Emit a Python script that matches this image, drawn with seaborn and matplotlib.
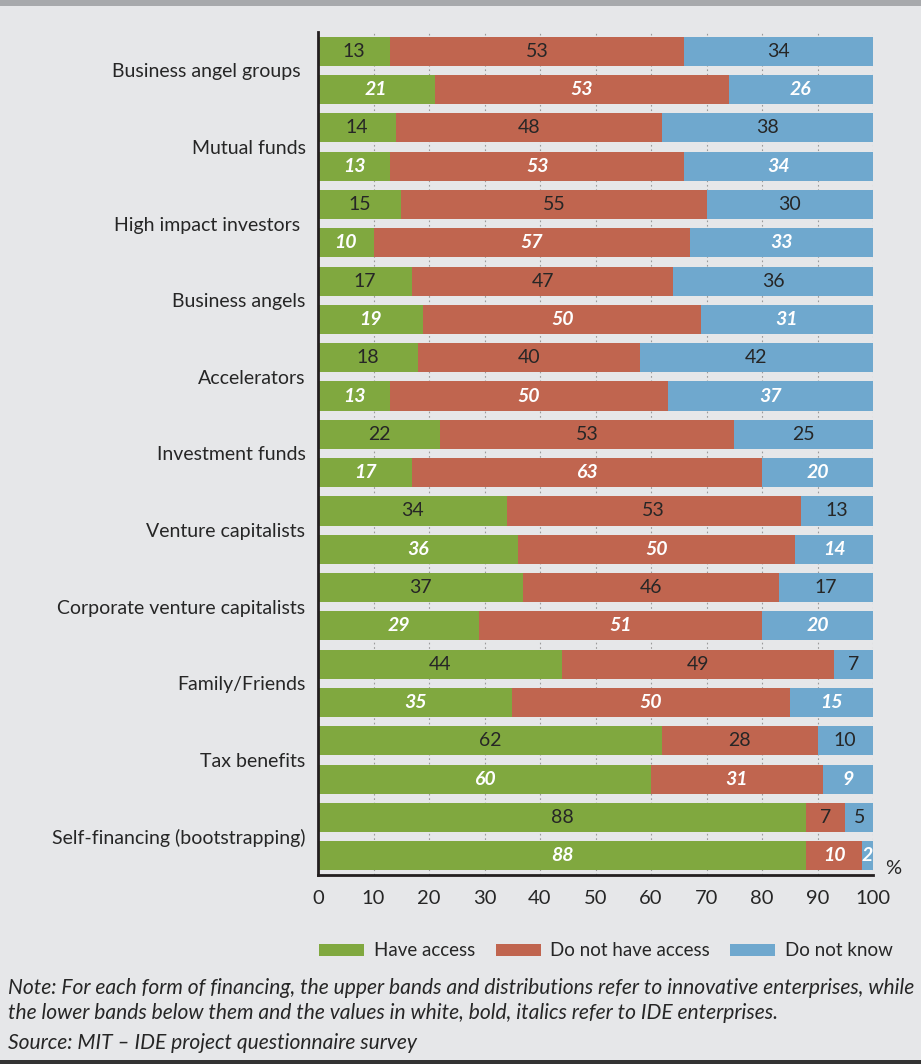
import matplotlib
matplotlib.use("Agg")
import matplotlib.pyplot as plt
from matplotlib.patches import Patch, Rectangle
import seaborn as sns
import pandas as pd
import numpy as np

categories = [
    "Business angel groups ", "Mutual funds", "High impact investors ",
    "Business angels", "Accelerators", "Investment funds",
    "Venture capitalists", "Corporate venture capitalists", "Family/Friends",
    "Tax benefits", "Self-financing (bootstrapping)",
]
groups = ["Innovative enterprises", "IDE enterprises"]
series = ["Have access", "Do not have access", "Do not know"]

# innovative enterprises (upper bands)
inn_have = [13, 14, 15, 17, 18, 22, 34, 37, 44, 62, 88]
inn_not = [53, 48, 55, 47, 40, 53, 53, 46, 49, 28, 7]
inn_dk = [34, 38, 30, 36, 42, 25, 13, 17, 7, 10, 5]
# IDE enterprises (lower bands)
ide_have = [21, 13, 10, 19, 13, 17, 36, 29, 35, 60, 88]
ide_not = [53, 53, 57, 50, 50, 63, 50, 51, 50, 31, 10]
ide_dk = [26, 34, 33, 31, 37, 20, 14, 20, 15, 9, 2]

xticks = [0, 10, 20, 30, 40, 50, 60, 70, 80, 90, 100]

GREEN = "#80A83F"
RED = "#C0654F"
BLUE = "#6FA8CE"
BG = "#E6E7E9"
DARK = "#262626"

sns.set_style("white")
FONT = ["Lato", "DejaVu Sans"]
plt.rcParams["font.family"] = FONT

rows = []
for gi, (h, n, d) in enumerate([(inn_have, inn_not, inn_dk), (ide_have, ide_not, ide_dk)]):
    for ci, cat in enumerate(categories):
        rows.append({"category": cat, "group": groups[gi],
                     "have": h[ci], "not": n[ci], "dk": d[ci]})
df = pd.DataFrame(rows)
df["c1"] = df["have"]
df["c2"] = df["have"] + df["not"]
df["c3"] = df["have"] + df["not"] + df["dk"]

fig = plt.figure(figsize=(9.21, 10.64), dpi=100)
fig.patch.set_facecolor(BG)
ax = fig.add_axes([318 / 921, 1 - 875 / 1064, (873 - 318) / 921, (875 - 32) / 1064])
ax.set_facecolor(BG)

for col, color in [("c3", BLUE), ("c2", RED), ("c1", GREEN)]:
    sns.barplot(data=df, y="category", x=col, hue="group", hue_order=groups,
                order=categories, palette=[color, color], orient="h",
                dodge=True, width=1.0, gap=0.24, errorbar=None, saturation=1,
                legend=False, ax=ax, linewidth=0, zorder=2)

# labels
for gi, (h, n, d) in enumerate([(inn_have, inn_not, inn_dk), (ide_have, ide_not, ide_dk)]):
    segs = [h, n, d]
    for s in range(3):
        cont = ax.containers[(2 - s) * 2 + gi]
        for ci, bar in enumerate(cont.patches):
            start = sum(segs[k][ci] for k in range(s))
            v = segs[s][ci]
            yc = bar.get_y() + bar.get_height() / 2
            xc = start + v / 2
            if gi == 0:
                ax.text(xc, yc, str(v), ha="center", va="center", fontsize=14,
                        color=DARK, zorder=5)
            else:
                ax.text(xc, yc, str(v), ha="center", va="center", fontsize=14,
                        color="white", fontweight="bold", fontstyle="italic", zorder=5)

ax.set_xlim(0, 100)
ax.set_ylim(len(categories) - 0.5, -0.5)
ax.set_xticks(xticks)
ax.set_xticklabels([str(t) for t in xticks], fontsize=14.5, color=DARK)
ax.set_yticks(range(len(categories)))
ax.set_yticklabels(categories, fontsize=14, color=DARK)
ax.set_yticks(np.arange(-0.5, len(categories), 1.0), minor=True)
ax.tick_params(axis="y", which="major", length=0, pad=9)
ax.tick_params(axis="y", which="minor", length=6, width=2, color="#231F20", direction="out")
ax.tick_params(axis="x", which="major", length=7, width=1.8, color="#231F20", direction="out", pad=4)
ax.set_xlabel("")
ax.set_ylabel("")
for sp in ["top", "right"]:
    ax.spines[sp].set_visible(False)
for sp in ["left", "bottom"]:
    ax.spines[sp].set_linewidth(2)
    ax.spines[sp].set_color("#231F20")
ax.grid(axis="x", color="#9A9A9A", linestyle=(0, (1.5, 2.5)), linewidth=0.8, zorder=0)
ax.grid(axis="y", visible=False)
ax.set_axisbelow(True)

fig.text(893 / 921, 1 - 869 / 1064, "%", ha="center", va="center", fontsize=14.5, color=DARK)

handles = [Patch(facecolor=c, edgecolor="none") for c in (GREEN, RED, BLUE)]
fig.legend(handles, series, loc="center", bbox_to_anchor=(606 / 921, 1 - 951 / 1064),
           ncol=3, frameon=False, handlelength=2.4, handleheight=0.6,
           handletextpad=0.5, columnspacing=1.1, fontsize=13.5, labelcolor=DARK)

note_kw = dict(ha="left", va="center", fontsize=15.1, fontstyle="italic", color=DARK)
fig.text(8 / 921, 1 - 988 / 1064,
         "Note: For each form of financing, the upper bands and distributions refer to innovative enterprises, while",
         **note_kw)
fig.text(8 / 921, 1 - 1013 / 1064,
         "the lower bands below them and the values in white, bold, italics refer to IDE enterprises.",
         **note_kw)
fig.text(8 / 921, 1 - 1043 / 1064,
         "Source: MIT \u2013 IDE project questionnaire survey",
         **note_kw)

fig.add_artist(Rectangle((0, 1 - 6 / 1064), 1, 6 / 1064, transform=fig.transFigure,
                         facecolor="#A7A9AC", edgecolor="none"))
fig.add_artist(Rectangle((0, 0), 1, 4 / 1064, transform=fig.transFigure,
                         facecolor="#333333", edgecolor="none"))

fig.savefig("out.png", dpi=100, facecolor=BG)
